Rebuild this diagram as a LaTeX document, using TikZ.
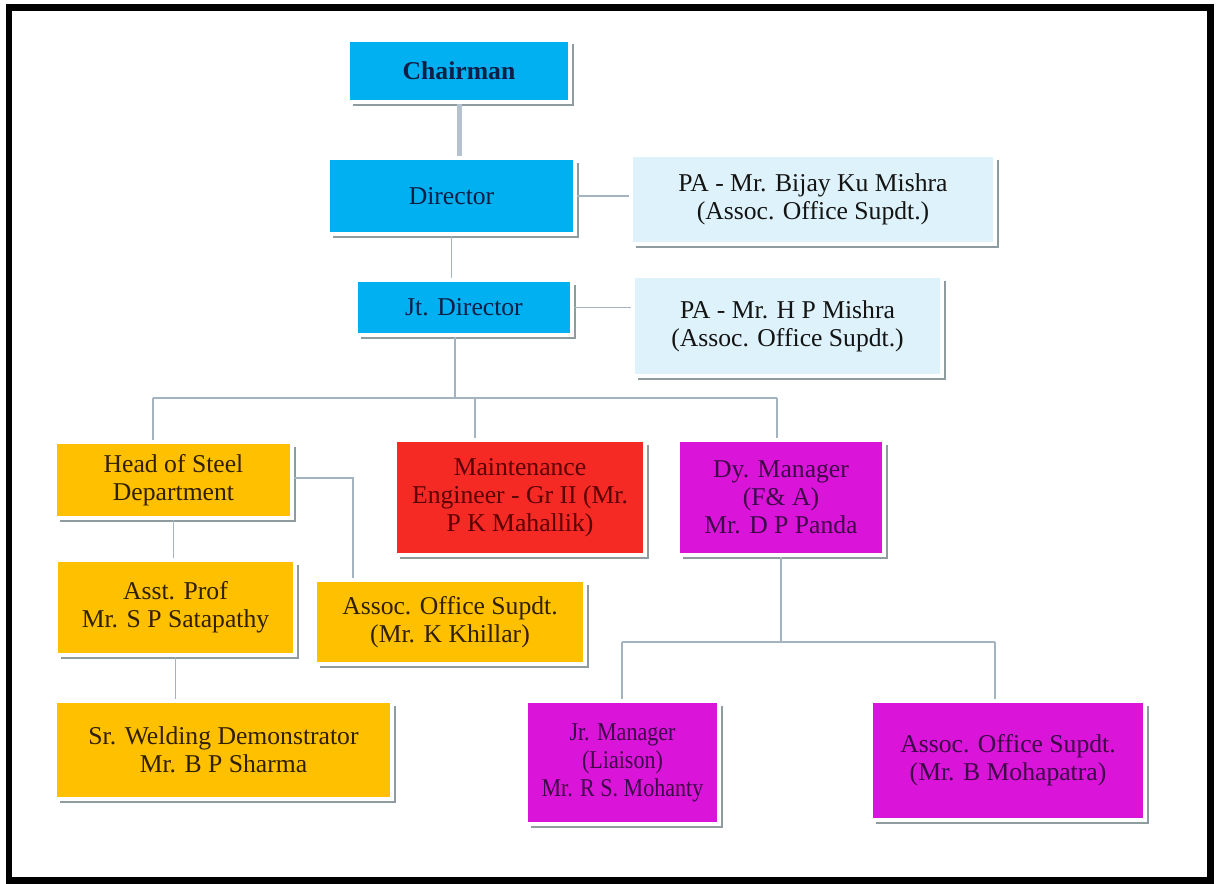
\documentclass[tikz,border=0pt]{standalone}
\usepackage{fontspec}
\setmainfont{Liberation Serif}
\newfontfamily\narrowserif[FakeStretch=0.86]{Liberation Serif}
\usetikzlibrary{shadows}
\definecolor{skyfill}{HTML}{00B0F0}
\definecolor{skytext}{HTML}{0F1E45}
\definecolor{palefill}{HTML}{DDF2FA}
\definecolor{goldfill}{HTML}{FFC000}
\definecolor{goldtext}{HTML}{302000}
\definecolor{redfill}{HTML}{F52A25}
\definecolor{redtext}{HTML}{5A0000}
\definecolor{pinkfill}{HTML}{DA14D8}
\definecolor{pinktext}{HTML}{3E0848}
\definecolor{linkgray}{HTML}{A3B3C0}
\definecolor{shadowgray}{HTML}{8F9C9F}
\tikzset{
  orgbox/.style={draw=white, line width=0.08cm, inner sep=0pt, align=center,
    font=\fontsize{14.6}{16}\selectfont,
    drop shadow={shadow xshift=0.09cm, shadow yshift=-0.09cm, fill=shadowgray, opacity=1}},
  skybox/.style={orgbox, fill=skyfill, text=skytext},
  palebox/.style={orgbox, fill=palefill, text=black!92},
  goldbox/.style={orgbox, fill=goldfill, text=goldtext},
  redbox/.style={orgbox, fill=redfill, text=redtext},
  pinkbox/.style={orgbox, fill=pinkfill, text=pinktext},
  link/.style={draw=linkgray, line width=0.03cm},
}

\begin{document}
\begin{tikzpicture}[x=0.02cm, y=-0.02cm]
			%%%%% START %%%%%
			\useasboundingbox[fill=white] (0, 0) rectangle (1219, 884);
			\draw[line width=0.14cm] (9, 8) rectangle (1210, 880.5);
			
			\node[skybox, minimum width=4.44cm, minimum height=1.24cm] (chair) at (459, 71) {\textbf{Chairman}};
			\node[skybox, minimum width=4.94cm, minimum height=1.52cm] (dir) at (451.5, 196) {Director};
			\node[palebox, minimum width=7.28cm, minimum height=1.78cm] (pa1) at (813, 199.5) {PA - Mr. Bijay Ku Mishra\\(Assoc. Office Supdt.)};
			\node[skybox, minimum width=4.32cm, minimum height=1.10cm] (jt) at (464, 307.5) {Jt. Director};
			\node[palebox, minimum width=6.18cm, minimum height=2.00cm] (pa2) at (787.5, 326) {PA - Mr. H P Mishra\\(Assoc. Office Supdt.)};
			
			\node[goldbox, minimum width=4.74cm, minimum height=1.52cm] (head) at (173.5, 480) {Head of Steel\\Department};
			\node[redbox, minimum width=5.00cm, minimum height=2.30cm] (maint) at (520, 497.5) {Maintenance\\Engineer - Gr II (Mr.\\P K Mahallik)};
			\node[pinkbox, minimum width=4.12cm, minimum height=2.30cm] (dy) at (781, 497.5) {Dy. Manager\\(F\& A)\\Mr. D P Panda};
			
			\node[goldbox, minimum width=4.78cm, minimum height=1.90cm] (asst) at (175.5, 607.5) {Asst. Prof\\Mr. S P Satapathy};
			\node[goldbox, minimum width=5.40cm, minimum height=1.68cm] (aoK) at (450, 622) {Assoc. Office Supdt.\\(Mr. K Khillar)};
			\node[goldbox, minimum width=6.74cm, minimum height=1.96cm] (weld) at (223.5, 750) {Sr. Welding Demonstrator\\Mr. B P Sharma};
			
			\node[pinkbox, minimum width=3.86cm, minimum height=2.46cm, font=\fontsize{14.6}{16}\narrowserif] (jr) at (622.5, 762.5) {Jr. Manager\\(Liaison)\\Mr. R S. Mohanty};
			\node[pinkbox, minimum width=5.48cm, minimum height=2.38cm] (aoB) at (1008, 760.5) {Assoc. Office Supdt.\\(Mr. B Mohapatra)};
			
			\coordinate (busA) at (455, 398);
			\coordinate (busL) at (153, 398);
			\coordinate (busM) at (475, 398);
			\coordinate (busR) at (777, 398);
			\coordinate (kTurn) at (353, 478);
			\coordinate (subL) at (622, 642);
			\coordinate (subR) at (995, 642);
			
			\draw[draw=linkgray!80, line width=0.1cm] (chair.south) -- (chair.south |- dir.north);
			\draw[link] (dir.east) -- (dir.east -| pa1.west);
			\draw[link] (dir.south) -- (dir.south |- jt.north);
			\draw[link] (jt.east) -- (jt.east -| pa2.west);
			\draw[link] (jt.south -| busA) -- (busA);
			\draw[link] (busL) -- (busR);
			\draw[link] (busL) -- (busL |- head.north);
			\draw[link] (busM) -- (busM |- maint.north);
			\draw[link] (busR) -- (busR |- dy.north);
			\draw[link] (head.east |- kTurn) -- (kTurn) -- (kTurn |- aoK.north);
			\draw[link] (head.south) -- (head.south |- asst.north);
			\draw[link] (asst.south) -- (asst.south |- weld.north);
			\draw[link] (dy.south) -- (dy.south |- subL);
			\draw[link] (subL) -- (subR);
			\draw[link] (subL) -- (subL |- jr.north);
			\draw[link] (subR) -- (subR |- aoB.north);
			%%%%% END %%%%%
\end{tikzpicture}
\end{document}
